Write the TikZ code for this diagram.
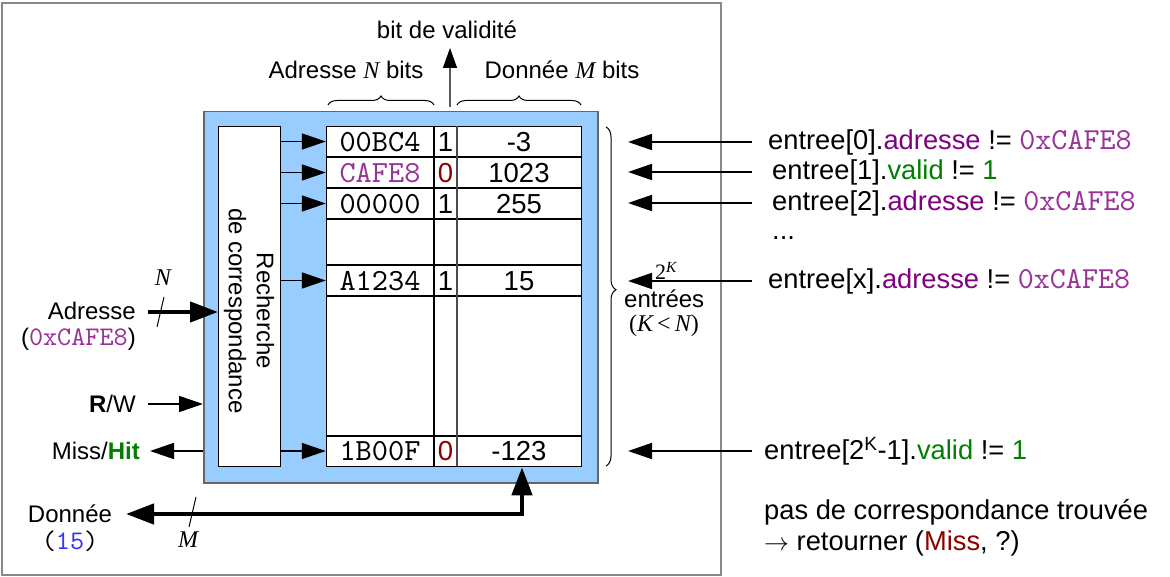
\documentclass[tikz,border=0pt]{standalone}
\usepackage{fontspec}
\setmainfont{Liberation Sans}
\setmonofont{lmmono10-regular.otf}[Scale=1.12]
\newfontfamily\tms{Liberation Serif}
\usetikzlibrary{arrows.meta,decorations.pathreplacing}
\definecolor{cfill}{HTML}{99CCFF}
\definecolor{cpurp}{HTML}{800080}
\definecolor{cpurl}{HTML}{993399}
\definecolor{cgreen}{HTML}{008000}
\definecolor{cred}{HTML}{8B0000}
\definecolor{cblu}{HTML}{3333FF}
\definecolor{cframe}{HTML}{888888}
\newcommand{\sza}{\fontsize{24}{28}\selectfont}
\newcommand{\szb}{\fontsize{27.5}{30}\selectfont}
\newcommand{\szc}{\fontsize{27.3}{30}\selectfont}
\newcommand{\itN}{{\tms\itshape N}}
\newcommand{\itM}{{\tms\itshape M}}
\newcommand{\hexv}{{\ttfamily\color{cpurl}0xCAFE8}}
\begin{document}
\begin{tikzpicture}[x=1pt,y=-1pt,
  lbl/.style={font=\sza, inner sep=0pt},
  cell/.style={font=\szb, inner sep=0pt, text height=19.5pt, text depth=0pt},
  rt/.style={font=\szc, inner sep=0pt, anchor=west},
  arr/.style={line width=1.7pt, -{Triangle[length=24pt,width=16pt]}},
  thk/.style={line width=4.5pt, -{Triangle[length=28pt,width=20pt]}},
  thkb/.style={line width=4.5pt, {Triangle[length=28pt,width=20pt]}-{Triangle[length=28pt,width=20pt]}},
  vld/.style={line width=1.3pt, draw=black!65, -{Triangle[length=20pt,width=14pt,fill=black,color=black]}},
  brc/.style={decorate, line width=1pt},
  tline/.style={line width=1.3pt}
  ]
\useasboundingbox (0,0) rectangle (1170,577);
% outer frame
\draw[draw=cframe, line width=2.5pt, fill=white] (2,3) rectangle (721,575);
% blue box
\node[draw=black!60, fill=cfill, line width=1.5pt, minimum width=394pt, minimum height=371pt, inner sep=0pt, anchor=north west] (blue) at (203,111) {};
% recherche box
\node[draw=black, fill=white, line width=1.3pt, minimum width=62pt, minimum height=340pt, inner sep=0pt, anchor=north west] (rech) at (218,126) {};
\node[lbl, rotate=-90, align=center] (rtxt) at (249,311) {Recherche\\de correspondance};
% table
\node[draw=black, fill=white, line width=1.3pt, minimum width=255pt, minimum height=340pt, inner sep=0pt, anchor=north west] (tab) at (326,126) {};
\foreach \yy in {157,188,219,265,296,436} \draw[tline] (326,\yy) -- (581,\yy);
\draw[tline] (434,126) -- (434,466);
\draw[tline, draw=black!70] (457,126) -- (457,466);
% cells
\node[cell, minimum width=108pt] (a1) at (380,141.5) {\ttfamily 00BC4};
\node[cell] (v1) at (445.5,141.5) {1};
\node[cell] (d1) at (519,141.5) {-3};
\node[cell, minimum width=108pt] (a2) at (380,172.5) {\ttfamily\color{cpurl}CAFE8};
\node[cell] (v2) at (445.5,172.5) {\color{cred}0};
\node[cell] (d2) at (519,172.5) {1023};
\node[cell, minimum width=108pt] (a3) at (380,203.5) {\ttfamily 00000};
\node[cell] (v3) at (445.5,203.5) {1};
\node[cell] (d3) at (519,203.5) {255};
\node[cell, minimum width=108pt] (a4) at (380,280.5) {\ttfamily A1234};
\node[cell] (v4) at (445.5,280.5) {1};
\node[cell] (d4) at (519,280.5) {15};
\node[cell, minimum width=108pt] (a5) at (380,451) {\ttfamily 1B00F};
\node[cell] (v5) at (445.5,451) {\color{cred}0};
\node[cell] (d5) at (519,451) {-123};
% arrows recherche -> rows
\foreach \r in {a1,a2,a3,a4,a5} \draw[arr] (rech.east |- \r.west) -- (\r.west);
% top labels and braces
\draw[brc, decoration={brace, amplitude=9pt}] (328,105) -- (434,105);
\draw[brc, decoration={brace, amplitude=9pt}] (457,105) -- (581,105);
\node[lbl] (adrN) at (346,70) {Adresse \itN\ bits};
\node[lbl] (donM) at (562,70) {Donnée \itM\ bits};
\node[lbl] (bdv) at (447,30) {bit de validité};
\coordinate (vb) at (450,107);
\coordinate (vt) at (450,48);
\draw[vld] (vb) -- (vt);
% right brace
\draw[brc, decoration={brace, amplitude=10pt, aspect=0.48}] (606,127) -- (606,466);
\node[font=\fontsize{22}{24}\selectfont, inner sep=0pt] (twoK) at (666,271) {\tms 2\textsuperscript{\itshape K}};
\node[lbl, anchor=west] (entr) at (624,299) {entrées};
\node[lbl] (kn) at (664,326) {\tms(\itshape K\upshape\,<\,\itshape N\upshape)};
% right texts
\node[rt] (e0) at (768,142) {entree[0].\textcolor{cpurp}{adresse} != \hexv};
\node[rt] (e1) at (772,172) {entree[1].\textcolor{cgreen}{valid} != \textcolor{cgreen}{1}};
\node[rt] (e2) at (772,203) {entree[2].\textcolor{cpurp}{adresse} != \hexv};
\node[rt] (edots) at (772,238) {...};
\node[rt] (ex) at (768,281) {entree[x].\textcolor{cpurp}{adresse} != \hexv};
\node[rt] (ek) at (764,451) {entree[2\textsuperscript{K}-1].\textcolor{cgreen}{valid} != \textcolor{cgreen}{1}};
\node[rt] (pas) at (764,512) {pas de correspondance trouvée};
\node[rt] (ret) at (764,543) {{\fontsize{24}{26}\selectfont$\rightarrow$} retourner (\textcolor{cred}{Miss}, ?)};
\foreach \n/\yy in {0/142,1/172,2/203,3/281,4/451}{
  \coordinate (s\n) at (752,\yy);
  \coordinate (t\n) at (628,\yy);
  \draw[arr] (s\n) -- (t\n);
}
% left side
\node[lbl, anchor=east] (adr) at (136,311) {Adresse};
\node[lbl, anchor=east] (adrv) at (136,339) {(\hexv)};
\coordinate (adrs) at (148,312);
\draw[thk] (adrs) -- (rech.west |- adrs);
\draw[line width=1pt] (157,327) -- (164,297);
\node[lbl] (nlab) at (163,278) {\itN};
\node[lbl, anchor=east] (rw) at (136,404) {\textbf{R}/W};
\draw[arr] ([xshift=12pt]rw.east) -- (blue.west |- rw.east);
\node[lbl, anchor=east] (mh) at (140,451) {Miss/\textbf{\color{cgreen}Hit}};
\draw[arr] (blue.west |- mh.east) -- ([xshift=10pt]mh.east);
% donnee
\node[lbl] (don) at (70,514) {Donnée};
\node[lbl] (donv) at (70,541) {\ttfamily(\textcolor{cblu}{15})};
\coordinate (dc) at (522,514);
\coordinate (dl) at (126,514);
\draw[thkb, line join=miter] (dc |- tab.south) -- (dc) -- (dl);
\draw[line width=1pt] (189,527) -- (196,497);
\node[lbl] (mlab) at (188,540) {\itM};
\end{tikzpicture}
\end{document}
